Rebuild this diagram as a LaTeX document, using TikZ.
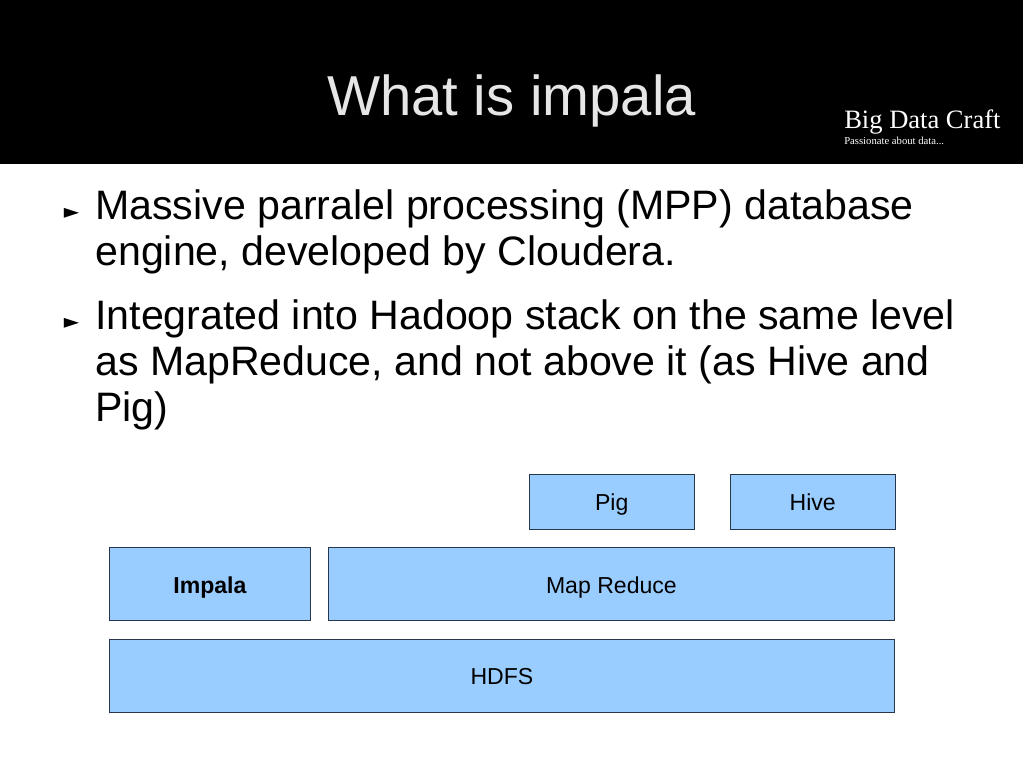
\documentclass[tikz,border=0pt]{standalone}
\usepackage{fontspec}
\setmainfont{Liberation Sans}
\newfontfamily\logofont{Liberation Serif}
\newfontfamily\bulletfont{DejaVu Sans}
\definecolor{boxblue}{RGB}{153,204,255}
\definecolor{boxline}{RGB}{40,55,75}
\definecolor{titlegrey}{RGB}{230,230,230}
\tikzset{
  stackbox/.style={draw=boxline,line width=0.6pt,fill=boxblue,inner sep=0pt,anchor=north west,text height=13.5pt,text depth=0pt,font=\fontsize{17.3}{20}\selectfont},
  bodytext/.style={inner sep=0pt,align=left,anchor=north west,font=\fontsize{30.85}{34.6}\selectfont},
  bulletmark/.style={anchor=base west,inner sep=0pt,font=\bulletfont\fontsize{15}{17}\selectfont}
}
\begin{document}
\begin{tikzpicture}[x=0.75pt,y=-0.75pt]
\useasboundingbox (0,0) rectangle (1023,767);
\fill [black] (0,0) rectangle (1023,164);
\node [text=titlegrey,inner sep=0pt,font=\fontsize{42.2}{48}\selectfont] (title) at (511.5,101) {What is impala};
\node [text=white,anchor=base west,inner sep=0pt,font=\logofont\fontsize{19.9}{22}\selectfont] (logo) at (844,128) {Big Data Craft};
\node [text=white,anchor=base west,inner sep=0pt,font=\logofont\fontsize{8}{9}\selectfont] (tagline) at (844,144) {Passionate about data...};
\node [bulletmark] (bulletone) at (63.5,218) {►};
\node [bodytext] (textone) at (95,189) {Massive parralel processing (MPP) database\\engine, developed by Cloudera.};
\node [bulletmark] (bullettwo) at (63.5,328) {►};
\node [bodytext] (texttwo) at (95,299) {Integrated into Hadoop stack on the same level\\as MapReduce, and not above it (as Hive and\\Pig)};
\node [stackbox,minimum width=123.4pt,minimum height=41.25pt] (pig) at (529,474) {Pig};
\node [stackbox,minimum width=123.4pt,minimum height=41.25pt] (hive) at (730,474) {Hive};
\node [stackbox,minimum width=150.75pt,minimum height=55.1pt] (impala) at (109,547) {\bfseries Impala};
\node [stackbox,minimum width=424.5pt,minimum height=55.1pt] (mapreduce) at (328,547) {Map Reduce};
\node [stackbox,minimum width=588.75pt,minimum height=54.75pt] (hdfs) at (109,639) {HDFS};
\end{tikzpicture}
\end{document}
